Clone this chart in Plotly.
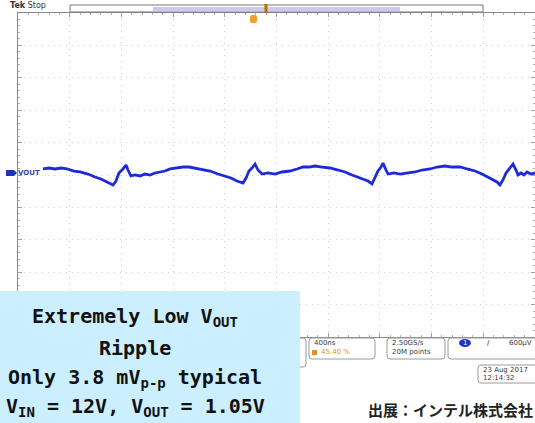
import plotly.graph_objects as go

# ---- scope capture: VOUT ripple, 400 ns/div, 10 x 10 divisions ----
time_us = [
    0.193, 0.240, 0.286, 0.333, 0.379, 0.433, 0.480, 0.542, 0.596, 0.642,
    0.689, 0.735, 0.758, 0.781, 0.812, 0.836, 0.851, 0.874, 0.905, 0.944,
    0.983, 1.021, 1.060, 1.099, 1.137, 1.176, 1.230, 1.277, 1.323, 1.370,
    1.424, 1.486, 1.547, 1.602, 1.648, 1.694, 1.741, 1.764, 1.787, 1.810,
    1.834, 1.857, 1.888, 1.934, 1.988, 2.043, 2.104, 2.159, 2.205, 2.251,
    2.298, 2.352, 2.414, 2.476, 2.530, 2.584, 2.631, 2.669, 2.708, 2.739,
    2.762, 2.785, 2.809, 2.824, 2.847, 2.863, 2.909, 2.956, 3.017, 3.072,
    3.126, 3.188, 3.242, 3.304, 3.358, 3.420, 3.474, 3.536, 3.590, 3.637,
    3.675, 3.706, 3.729, 3.752, 3.776, 3.807, 3.830, 3.853, 3.869, 3.892,
    3.915, 3.938, 3.969, 4.000,
]
vout_mv = [
    1.04, 1.21, 1.04, 1.21, 1.04, 0.69, 0.52, 0.17, -0.35, -0.69,
    -1.21, -1.73, -1.04, 0.35, 1.04, 1.73, 0.86, -0.17, 0.00, -0.17,
    0.17, 0.00, 0.35, 0.52, 0.69, 1.04, 1.21, 1.38, 1.38, 1.21,
    1.04, 0.69, 0.17, -0.17, -0.52, -1.04, -1.38, -0.52, 0.69, 1.21,
    1.90, 0.86, 0.17, 0.35, 0.17, 0.52, 0.69, 1.04, 1.38, 1.38,
    1.55, 1.38, 1.21, 0.86, 0.52, 0.00, -0.35, -0.69, -1.04, -1.55,
    -0.52, 0.69, 1.38, 2.07, 0.86, 0.17, 0.35, 0.17, 0.35, 0.52,
    0.86, 1.04, 1.38, 1.55, 1.38, 1.38, 1.04, 0.69, 0.17, -0.35,
    -0.86, -1.21, -1.73, -0.86, 0.35, 1.21, 1.90, 0.86, 0.00, 0.35,
    0.00, 0.52, 0.17, 0.35,
]

US_PER_DIV = 0.4
MV_PER_DIV = 5.6
N_DIV = 10

caption_lines = [
    "Extremely Low V<sub>OUT</sub>",
    "Ripple",
    "Only 3.8 mV<sub>p-p</sub> typical",
    "V<sub>IN</sub> = 12V, V<sub>OUT</sub> = 1.05V",
]
source_text = "<b>出展：インテル株式会社</b>"

W, H = 535, 423
L, R, T, B = 18, 535, 13, 337


def fx(x):
    return (x - L) / (R - L)


def fy(y):
    return (B - y) / (B - T)


def rrect(x0, y0, x1, y1, r=3):
    a0, a1 = fx(x0), fx(x1)
    b0, b1 = fy(y0), fy(y1)
    rx = r / (R - L)
    ry = r / (B - T)
    return (f"M{a0+rx},{b0} L{a1-rx},{b0} Q{a1},{b0} {a1},{b0-ry} "
            f"L{a1},{b1+ry} Q{a1},{b1} {a1-rx},{b1} L{a0+rx},{b1} "
            f"Q{a0},{b1} {a0},{b1+ry} L{a0},{b0-ry} Q{a0},{b0} {a0+rx},{b0} Z")


fig = go.Figure()
fig.add_trace(go.Scatter(
    x=time_us, y=vout_mv, mode="lines",
    line=dict(color="#1e2ad8", width=2.8),
    hoverinfo="skip", showlegend=False,
))

half = MV_PER_DIV * N_DIV / 2
axis_style = dict(
    showgrid=True, gridcolor="#cdcdcd", griddash="1px,5px", gridwidth=1,
    showline=True, linecolor="#8a8a8a", linewidth=1, mirror="ticks",
    ticks="inside", ticklen=4, tickcolor="#a0a0a0",
    showticklabels=False, zeroline=False, fixedrange=True,
)
fig.update_xaxes(
    range=[0, US_PER_DIV * N_DIV], dtick=US_PER_DIV,
    minor=dict(dtick=US_PER_DIV / 5, ticks="inside", ticklen=2, tickcolor="#b0b0b0"),
    **axis_style,
)
fig.update_yaxes(
    range=[-half, half], dtick=MV_PER_DIV,
    minor=dict(dtick=MV_PER_DIV / 5, ticks="inside", ticklen=2, tickcolor="#b0b0b0"),
    **axis_style,
)

shapes = []
annos = []

# record-view bar and trigger markers
shapes.append(dict(type="rect", xref="paper", yref="paper",
                   x0=fx(70), x1=fx(483), y0=fy(12), y1=fy(5),
                   line=dict(color="#777", width=1), fillcolor="white"))
shapes.append(dict(type="rect", xref="paper", yref="paper",
                   x0=fx(153), x1=fx(400), y0=fy(11), y1=fy(7),
                   line=dict(width=0), fillcolor="#c9c9f2"))
shapes.append(dict(type="line", xref="paper", yref="paper",
                   x0=fx(266), x1=fx(266), y0=fy(13), y1=fy(4),
                   line=dict(color="#b86e00", width=3)))
shapes.append(dict(type="path", xref="paper", yref="paper",
                   path=rrect(250, 15, 257, 23, 2),
                   line=dict(width=0), fillcolor="#f0a030"))
annos.append(dict(x=fx(8), y=fy(6), xref="paper", yref="paper",
                  text="<b>Tek</b> Stop", showarrow=False, xanchor="left",
                  yanchor="middle", font=dict(family="DejaVu Sans", size=8, color="#333")))

# channel 1 reference marker
shapes.append(dict(type="path", xref="paper", yref="paper",
                   path=(f"M{fx(6)},{fy(170)} L{fx(14)},{fy(170)} L{fx(17)},{fy(173)} "
                         f"L{fx(14)},{fy(176)} L{fx(6)},{fy(176)} Z"),
                   line=dict(width=0), fillcolor="#2030c0"))
annos.append(dict(x=fx(16), y=fy(173), xref="paper", yref="paper",
                  text="<b>VOUT</b>", showarrow=False, xanchor="left",
                  yanchor="middle", font=dict(family="DejaVu Sans", size=7, color="#3a46a8")))

# readout boxes under the graticule
box_line = dict(color="#9a9a9a", width=1)
for (x0, y0, x1, y1) in [(250, 338, 306, 367), (309, 338, 375, 359),
                         (387, 338, 445, 359), (448, 338, 545, 359),
                         (478, 365, 545, 383)]:
    shapes.append(dict(type="path", xref="paper", yref="paper",
                       path=rrect(x0, y0, x1, y1, 3), line=box_line,
                       fillcolor="white"))


def txt(x, y, s, color="#3a3a3a", anchor="left", size=7):
    annos.append(dict(x=fx(x), y=fy(y), xref="paper", yref="paper", text=s,
                      showarrow=False, xanchor=anchor, yanchor="middle",
                      font=dict(family="DejaVu Sans", size=size, color=color)))


txt(312, 343, "400ns")
shapes.append(dict(type="rect", xref="paper", yref="paper",
                   x0=fx(312), x1=fx(317), y0=fy(355), y1=fy(350),
                   line=dict(width=0), fillcolor="#e09020"))
txt(319, 352, "45.40 %", color="#e09020")
txt(390, 343, "2.50GS/s")
txt(390, 352, "20M points")
shapes.append(dict(type="circle", xref="paper", yref="paper",
                   x0=fx(459), x1=fx(471), y0=fy(347), y1=fy(339),
                   line=dict(width=0), fillcolor="#1f35c8"))
txt(465, 343, "1", color="white", anchor="center", size=7)
txt(488, 343, "/", color="#222", anchor="center")
txt(534, 343, "600µV", anchor="right")
txt(481, 370, "23 Aug 2017")
txt(481, 378, "12:14:32")

# caption panel
shapes.append(dict(type="rect", xref="paper", yref="paper", layer="above",
                   x0=fx(0), x1=fx(300), y0=fy(423), y1=fy(291),
                   line=dict(width=0), fillcolor="#ccefff"))
for yc, line_txt in zip([317, 348, 378, 407], caption_lines):
    annos.append(dict(x=fx(135), y=fy(yc), xref="paper", yref="paper",
                      text="<b>" + line_txt + "</b>", showarrow=False,
                      xanchor="center", yanchor="middle",
                      font=dict(family="DejaVu Sans Mono", size=20, color="#111")))

annos.append(dict(x=fx(535), y=fy(410), xref="paper", yref="paper",
                  text=source_text, showarrow=False, xanchor="right",
                  yanchor="middle",
                  font=dict(family="Noto Sans CJK JP", size=15, color="#222")))

fig.update_layout(
    width=W, height=H,
    margin=dict(l=L, r=W - R, t=T, b=H - B, pad=0),
    paper_bgcolor="white", plot_bgcolor="white",
    shapes=shapes, annotations=annos, showlegend=False,
)

fig.write_html("out.html", config={"displayModeBar": False})
